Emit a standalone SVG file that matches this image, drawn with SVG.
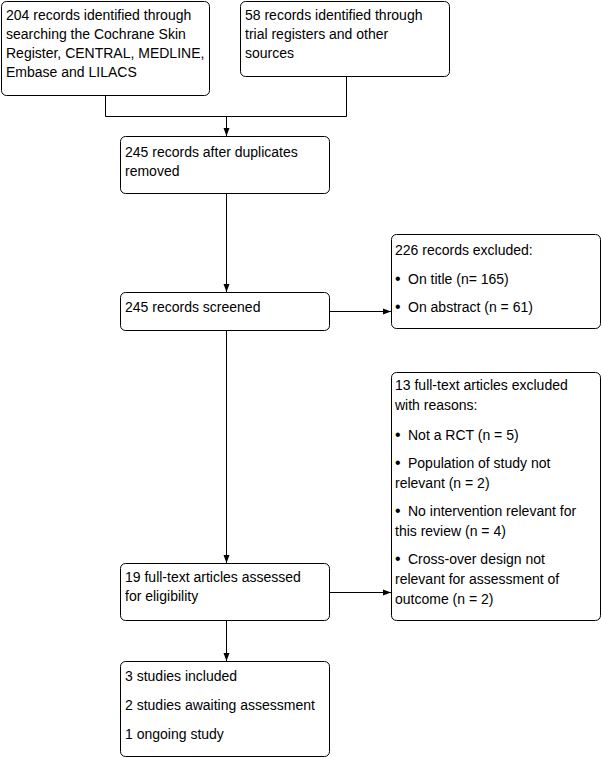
<svg xmlns="http://www.w3.org/2000/svg" width="602" height="758" viewBox="0 0 602 758">
<style>
.box{fill:#fff;stroke:#000;stroke-width:1}
text{font-family:"Liberation Sans",Arial,sans-serif;font-size:14px;fill:#000}
.b{font-size:16px}
.c{fill:none;stroke:#000;stroke-width:1}
</style>
<defs>
<marker id="ah" viewBox="0 0 8 8" refX="8" refY="4" markerWidth="8" markerHeight="8" markerUnits="userSpaceOnUse" orient="auto">
<path d="M0,1 L8,4 L0,7 z" fill="#000"/>
</marker>
</defs>
<rect width="602" height="758" fill="#fff"/>
<g id="connectors">
<path class="c" d="M105.5,95 V116.5 H346.5 V76"/>
<path class="c" d="M226.5,116.5 V136" marker-end="url(#ah)"/>
<path class="c" d="M226.5,193 V292" marker-end="url(#ah)"/>
<path class="c" d="M329,311.5 H391" marker-end="url(#ah)"/>
<path class="c" d="M226.5,330 V563" marker-end="url(#ah)"/>
<path class="c" d="M329,592.5 H391" marker-end="url(#ah)"/>
<path class="c" d="M226.5,621 V661" marker-end="url(#ah)"/>
</g>
<g id="n1">
<rect class="box" x="1.5" y="1.5" width="208" height="94" rx="5"/>
<text x="6" y="20">204 records identified through</text>
<text x="6" y="39">searching the Cochrane Skin</text>
<text x="6" y="58">Register, CENTRAL, MEDLINE,</text>
<text x="6" y="77">Embase and LILACS</text>
</g>
<g id="n2">
<rect class="box" x="240.5" y="1.5" width="209" height="75" rx="5"/>
<text x="245" y="20">58 records identified through</text>
<text x="245" y="39">trial registers and other</text>
<text x="245" y="58">sources</text>
</g>
<g id="n3">
<rect class="box" x="120.5" y="136.5" width="209" height="57" rx="5"/>
<text x="125" y="157">245 records after duplicates</text>
<text x="125" y="176">removed</text>
</g>
<g id="n4">
<rect class="box" x="120.5" y="292.5" width="209" height="38" rx="5"/>
<text x="125" y="312">245 records screened</text>
</g>
<g id="n5">
<rect class="box" x="391.5" y="234.5" width="209" height="94" rx="5"/>
<text x="395" y="255">226 records excluded:</text>
<text x="395" y="284"><tspan class="b">•</tspan><tspan x="408">On title (n= 165)</tspan></text>
<text x="395" y="312"><tspan class="b">•</tspan><tspan x="408">On abstract (n = 61)</tspan></text>
</g>
<g id="n6">
<rect class="box" x="391.5" y="372.5" width="209" height="248" rx="5"/>
<text x="395" y="390">13 full-text articles excluded</text>
<text x="395" y="410">with reasons:</text>
<text x="395" y="440"><tspan class="b">•</tspan><tspan x="408">Not a RCT (n = 5)</tspan></text>
<text x="395" y="468"><tspan class="b">•</tspan><tspan x="408">Population of study not</tspan></text>
<text x="395" y="488">relevant (n = 2)</text>
<text x="395" y="516"><tspan class="b">•</tspan><tspan x="408">No intervention relevant for</tspan></text>
<text x="395" y="536">this review (n = 4)</text>
<text x="395" y="564"><tspan class="b">•</tspan><tspan x="408">Cross-over design not</tspan></text>
<text x="395" y="584">relevant for assessment of</text>
<text x="395" y="604">outcome (n = 2)</text>
</g>
<g id="n7">
<rect class="box" x="120.5" y="563.5" width="209" height="57" rx="5"/>
<text x="125" y="582">19 full-text articles assessed</text>
<text x="125" y="601">for eligibility</text>
</g>
<g id="n8">
<rect class="box" x="120.5" y="661.5" width="209" height="95" rx="5"/>
<text x="125" y="681">3 studies included</text>
<text x="125" y="710">2 studies awaiting assessment</text>
<text x="125" y="739">1 ongoing study</text>
</g>
</svg>
